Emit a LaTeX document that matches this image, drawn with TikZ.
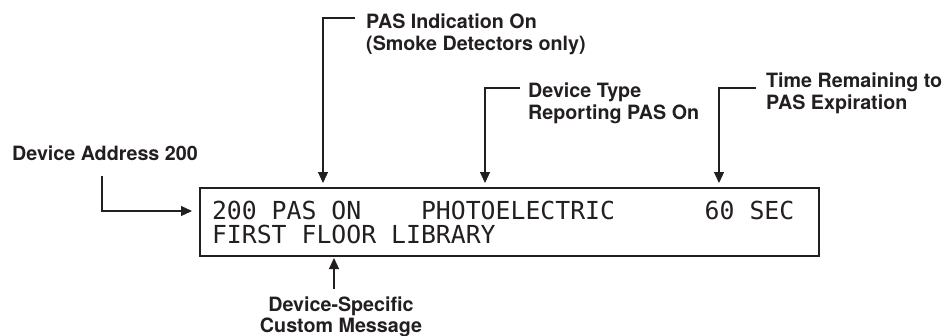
\documentclass[tikz,border=0pt]{standalone}
\usepackage{fontspec}
\setmainfont{TeX Gyre Heros}
\newfontfamily\lcdfont{DejaVu Sans Mono}
\usetikzlibrary{arrows.meta,positioning}
\definecolor{ink}{HTML}{231F20}
\newcommand\blank{\hphantom{0}}

\begin{document}
\begin{tikzpicture}[x=1pt,y=-1pt,
  lbl/.style={font=\fontsize{19.7}{22}\selectfont\bfseries,text=ink,align=left,inner sep=0pt,anchor=north west},
  lcdbox/.style={draw=ink,line width=1.8pt,font=\fontsize{24.8}{24}\selectfont\lcdfont,text=ink,align=left,
    text width=595pt,inner xsep=12pt,inner ysep=0pt,minimum height=68pt,outer sep=0pt,anchor=north west},
  conn/.style={draw=ink,line width=1.2pt,-{Triangle[length=11pt,width=10pt]}}]
\useasboundingbox (0,0) rectangle (945,335);
% the display
\node[lcdbox] (lcd) at (200,188) {200\blank PAS\blank ON\blank\blank\blank\blank PHOTOELECTRIC\blank\blank\blank\blank\blank\blank 60\blank SEC\\
  FIRST\blank FLOOR\blank LIBRARY};
% callouts
\node[lbl] (pas) at (366,14) {PAS Indication On\\(Smoke Detectors only)};
\node[lbl] (type) at (528,83) {Device Type\\Reporting PAS On};
\node[lbl] (time) at (766,73) {Time Remaining to\\PAS Expiration};
\node[lbl] (addr) at (12,146) {Device Address 200};
\node[lbl,align=center,anchor=north,font=\fontsize{19.7}{21}\selectfont\bfseries] (msg) at (341,297) {Device-Specific\\Custom Message};
% arrow ends on the display
\coordinate (pasTip) at ([xshift=123pt,yshift=5pt]lcd.north west);
\coordinate (typeTip) at ([xshift=285pt,yshift=5pt]lcd.north west);
\coordinate (timeTip) at ([xshift=519pt,yshift=5pt]lcd.north west);
\coordinate (addrTip) at ([xshift=-8pt,yshift=-23pt]lcd.north west);
\coordinate (msgTip) at ([xshift=134pt,yshift=-2pt]lcd.south west);
\draw[conn] ([xshift=-11pt,yshift=-4pt]pas.north west) -| (pasTip);
\draw[conn] ([xshift=-8pt,yshift=-5pt]type.north west) -| (typeTip);
\draw[conn] ([xshift=-10pt,yshift=-15pt]time.north west) -| (timeTip);
\draw[conn] ([xshift=90pt,yshift=-15pt]addr.south west) |- (addrTip);
\draw[conn] ([xshift=-7pt,yshift=8pt]msg.north) -- (msgTip);
\end{tikzpicture}
\end{document}
